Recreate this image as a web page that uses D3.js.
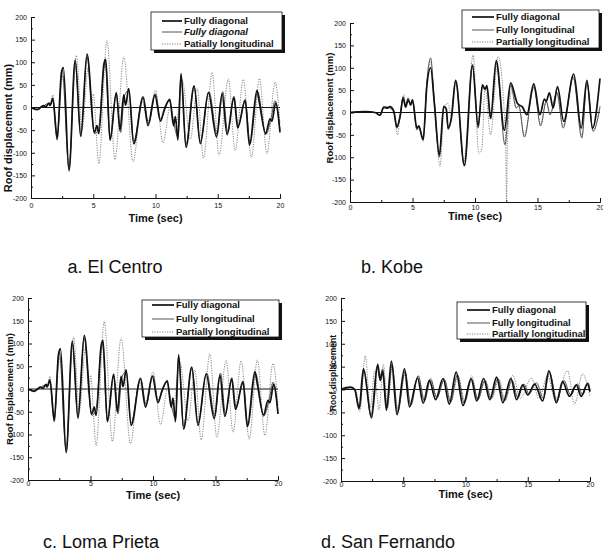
<!DOCTYPE html>
<html>
<head>
<meta charset="utf-8">
<script src="https://cdn.jsdelivr.net/npm/d3@7"></script>
<style>
    body { margin: 0; background: #fff; }
    svg { display: block; font-family: "Liberation Sans", Arial, sans-serif; }
    .tick text { font-size: 7px; fill: #111; }
    .domain, .tick line { stroke: #111; }
    .axis-title { font-weight: bold; fill: #111; }
    .legend-text { font-weight: bold; font-size: 9.5px; fill: #111; }
    .caption { font-size: 18px; fill: #111; }
</style>
</head>
<body>
<svg id="canvas" width="603" height="554"></svg>
<script>
// tick values shared by all four panels
const timeTicks = [0, 5, 10, 15, 20];
const timeMinor = [2.5, 7.5, 12.5, 17.5];
const dispTicks = [-200, -150, -100, -50, 0, 50, 100, 150, 200];
const dispMinor = [-175, -125, -75, -25, 25, 75, 125, 175];

// [time (sec), roof displacement (mm)]
const elCentroDiag = [[0,0],[0.5,-5],[1.0,4],[1.2,2],[1.45,10],[1.55,5],[1.75,20],[2.1,-68],[2.45,78],[2.6,88],
    [3.05,-140],[3.55,105],[4.0,-62],[4.5,118],[5.1,-55],[5.3,-40],[5.45,-58],[5.85,95],[6.0,107],[6.35,-72],
    [6.85,33],[7.15,-50],[7.45,28],[7.6,5],[7.85,42],[8.25,-80],[9.0,22],[9.4,-40],[9.95,28],[10.4,-30],
    [10.7,-5],[11.15,18],[11.45,-40],[11.6,-20],[11.8,-72],[12.05,75],[12.45,-88],[13.1,48],[13.6,-80],
    [14.25,33],[14.9,-65],[15.35,30],[15.75,-60],[16.3,22],[16.6,-45],[17.2,15],[17.55,-83],[18.15,38],
    [18.35,10],[18.85,-57],[19.2,-25],[19.35,-30],[19.65,10],[20,-55]];
const elCentroLong = [[0,0],[0.5,-4],[1.0,3],[1.3,8],[1.5,4],[1.75,18],[2.1,-72],[2.5,82],[3.05,-135],[3.55,100],
    [4.0,-65],[4.5,112],[5.1,-58],[5.4,-50],[5.95,100],[6.35,-70],[6.85,30],[7.2,-55],[7.5,25],[7.85,38],
    [8.25,-75],[9.0,25],[9.45,-35],[10.0,30],[10.4,-25],[11.1,15],[11.5,-40],[11.8,-65],[12.05,70],
    [12.45,-82],[13.1,45],[13.6,-75],[14.3,35],[14.95,-60],[15.4,35],[15.8,-55],[16.3,25],[16.65,-40],
    [17.2,18],[17.6,-80],[18.2,35],[18.85,-60],[19.3,-22],[19.6,15],[20,-50]];
const elCentroPartial = [[0,0],[0.5,-3],[1.0,3],[1.3,8],[1.5,4],[1.75,28],[2.1,-55],[2.55,70],[3.05,-130],
    [3.65,115],[4.1,-50],[4.6,90],[4.85,-10],[5.0,30],[5.45,-124],[6.1,148],[6.75,-115],[7.45,112],[8.2,-120],
    [8.9,15],[9.4,-30],[10.0,38],[10.6,-78],[11.2,5],[11.6,-45],[12.15,60],[12.8,-70],[13.35,42],[13.85,-112],
    [14.55,77],[15.1,-106],[15.85,63],[16.4,-95],[17.05,62],[17.7,-110],[18.35,64],[18.95,-102],[19.6,56],
    [20,-35]];

const kobeDiag = [[0,0],[1.2,2],[2.0,0],[2.4,-6],[2.7,12],[3.0,10],[3.2,13],[3.5,3],[3.75,-32],[4.0,-10],
    [4.25,32],[4.45,12],[4.65,28],[4.85,18],[5.0,28],[5.35,-35],[5.5,-30],[5.85,-60],[6.15,60],[6.45,100],
    [6.75,20],[7.15,-95],[7.5,14],[7.7,8],[7.85,-35],[8.1,-15],[8.45,72],[9.15,-118],[9.8,104],[10.25,-30],
    [10.6,62],[10.8,52],[10.95,60],[11.25,-12],[11.7,116],[12.35,-40],[12.85,66],[13.4,20],[13.8,12],
    [14.15,-5],[14.7,64],[15.2,-5],[15.55,30],[15.7,25],[15.95,44],[16.25,10],[16.6,58],[17.1,-20],
    [17.9,86],[18.5,-35],[18.95,72],[19.4,-35],[20,76]];
const kobeLong = [[0,0],[1.2,2],[2.0,0],[2.4,-6],[2.7,10],[3.0,12],[3.2,10],[3.5,2],[3.75,-35],[4.0,-8],
    [4.25,35],[4.45,15],[4.65,32],[4.85,15],[5.0,26],[5.35,-38],[5.5,-32],[5.85,-62],[6.15,70],[6.45,122],
    [6.75,25],[7.15,-100],[7.5,12],[7.7,6],[7.85,-38],[8.1,-12],[8.45,70],[9.15,-120],[9.8,108],[10.25,-35],
    [10.6,60],[10.8,50],[10.95,55],[11.25,-15],[11.7,112],[12.4,-72],[12.85,62],[13.3,10],[13.5,15],
    [13.95,-55],[14.7,58],[15.25,-30],[15.7,25],[16.0,-5],[16.55,45],[17.05,-35],[17.85,80],[18.55,-57],
    [18.95,68],[19.45,-42],[20,12]];
const kobePartial = [[0,0],[1.2,2],[2.0,0],[2.4,-4],[2.7,12],[3.0,14],[3.2,10],[3.5,0],[3.8,-50],[4.0,-10],
    [4.3,40],[4.45,18],[4.65,35],[4.85,15],[5.0,30],[5.35,-40],[5.5,-35],[5.85,-65],[6.15,65],[6.45,115],
    [6.75,15],[7.2,-120],[7.55,15],[7.85,20],[8.1,-10],[8.5,70],[9.1,-110],[9.85,128],[10.3,-92],[10.55,-80],
    [10.8,55],[11.25,-50],[11.85,125],[12.45,-60],[12.52,-200],[12.6,-60],[13.0,55],[13.3,10],[13.5,15],
    [13.95,-50],[14.7,55],[15.25,-25],[15.7,25],[16.0,-5],[16.55,42],[17.05,-30],[17.85,78],[18.55,-52],
    [18.95,65],[19.45,-40],[20,15]];

const sanFerDiag = [[0,0],[0.4,4],[0.8,5],[1.1,0],[1.45,-42],[1.8,45],[2.45,-62],[2.95,55],[3.15,20],[3.35,40],
    [3.65,-45],[4.05,62],[4.5,-55],[5.1,45],[5.5,-38],[6.15,25],[6.6,-30],[7.1,20],[7.6,-22],[8.2,24],
    [8.7,-32],[9.25,38],[9.8,-35],[10.45,24],[10.9,-25],[11.45,24],[11.95,-22],[12.5,27],[13.0,-29],
    [13.65,24],[14.1,-22],[14.6,10],[15.0,-12],[15.55,12],[16.2,-25],[16.7,41],[17.3,-29],[17.8,17],
    [18.35,-15],[18.9,10],[19.3,-15],[19.8,13],[20,-5]];
const sanFerLong = [[0,0],[0.4,3],[0.8,4],[1.1,0],[1.5,-40],[1.85,42],[2.4,-58],[2.9,50],[3.1,25],[3.35,45],
    [3.7,-40],[4.1,55],[4.55,-50],[5.15,40],[5.6,-35],[6.2,30],[6.7,-25],[7.2,22],[7.7,-18],[8.3,22],
    [8.8,-28],[9.35,32],[9.9,-30],[10.5,22],[11.0,-22],[11.55,20],[12.05,-20],[12.6,24],[13.1,-25],
    [13.75,20],[14.2,-18],[14.7,12],[15.1,-10],[15.7,15],[16.25,-20],[16.75,38],[17.35,-25],[17.9,20],
    [18.45,-12],[19.0,12],[19.4,-12],[19.85,15],[20,-2]];
const sanFerPartial = [[0,0],[0.8,3],[1.2,0],[1.5,-48],[1.95,74],[2.35,-40],[2.7,40],[3.05,-45],[3.4,55],
    [3.75,-40],[4.1,50],[4.6,-45],[5.15,35],[5.6,-30],[6.2,30],[6.7,-22],[7.2,25],[7.7,-18],[8.3,22],
    [8.85,-25],[9.4,30],[9.95,-25],[10.5,30],[11.0,-22],[11.6,20],[12.1,-20],[12.7,22],[13.2,-25],
    [13.8,31],[14.4,-20],[15.3,25],[15.9,-20],[16.6,30],[17.2,-22],[18.2,41],[18.75,-32],[19.4,34],[20,-15]];

// Loma Prieta panel repeats the El Centro traces in the source figure
const lomaDiag = elCentroDiag;
const lomaLong = elCentroLong;
const lomaPartial = elCentroPartial;

const panels = [
    {left: 31, right: 280, top: 17, bottom: 198, xTickPad: 5,
     yTitle: "Roof displacement (mm)", yTitleX: 8, yTitleY: 128, yTitleSize: 11,
     xTitleY: 222, xTitleSize: 11,
     caption: "a. El Centro", capX: 115, capY: 273,
     legend: {x: 151, y: 12, w: 131, h: 38, lineX: 162, textX: 184, rows: [21, 32, 44]},
     labels: ["Fully diagonal", "Fully diagonal", "Patially longitudinal"], italic: 1,
     series: [elCentroDiag, elCentroLong, elCentroPartial]},
    {left: 350, right: 600, top: 23, bottom: 202, xTickPad: 3,
     yTitle: "Roof displacement (mm)", yTitleX: 330, yTitleY: 108, yTitleSize: 9.5,
     xTitleY: 220, xTitleSize: 11,
     caption: "b. Kobe", capX: 392, capY: 273,
     legend: {x: 462, y: 10, w: 137, h: 38, lineX: 472, textX: 496, rows: [17, 30, 42]},
     labels: ["Fully diagonal", "Fully longitudinal", "Partially longitudinal"], italic: -1,
     series: [kobeDiag, kobeLong, kobePartial]},
    {left: 28, right: 278, top: 298, bottom: 480, xTickPad: 1.5,
     yTitle: "Roof Displacement (mm)", yTitleX: 10, yTitleY: 389, yTitleSize: 9.5,
     xTitleY: 499, xTitleSize: 11,
     caption: "c. Loma Prieta", capX: 101, capY: 548,
     legend: {x: 142, y: 300, w: 137, h: 37, lineX: 152, textX: 176, rows: [305, 319, 332]},
     labels: ["Fully diagonal", "Fully longitudinal", "Partially longitudinal"], italic: -1,
     series: [lomaDiag, lomaLong, lomaPartial]},
    {left: 341, right: 590, top: 298, bottom: 481, xTickPad: 1.5,
     yTitle: "Roof displacement", yTitleX: 333, yTitleY: 373, yTitleSize: 8.5,
     xTitleY: 498, xTitleSize: 11,
     caption: "d. San Fernando", capX: 388, capY: 548,
     legend: {x: 457, y: 302, w: 129, h: 37, lineX: 467, textX: 492, rows: [310, 323, 334]},
     labels: ["Fully diagonal", "Fully longitudinal", "Partially longitudinal"], italic: -1,
     series: [sanFerDiag, sanFerLong, sanFerPartial]}
];

// stroke styles for diagonal, longitudinal, partial
const styles = [
    {color: "#111", width: 1.7, dash: null},
    {color: "#444", width: 0.9, dash: null},
    {color: "#666", width: 0.8, dash: "1.2,1.3"}
];

/**
 * Draws one time-history panel with its axes, legend and caption.
 */
function drawPanel(p) {
    const svg = d3.select("#canvas");
    const g = svg.append("g");

    const x = d3.scaleLinear().domain([0, 20]).range([p.left, p.right]);
    const y = d3.scaleLinear().domain([-200, 200]).range([p.bottom, p.top]);

    // minor ticks first, then major ones with labels
    g.append("g")
        .attr("transform", "translate(0," + p.bottom + ")")
        .call(d3.axisBottom(x).tickValues(timeMinor).tickSize(-2).tickSizeOuter(0).tickFormat(""));
    g.append("g")
        .attr("transform", "translate(" + p.left + ",0)")
        .call(d3.axisLeft(y).tickValues(dispMinor).tickSize(-2).tickSizeOuter(0).tickFormat(""));

    g.append("g")
        .attr("transform", "translate(0," + p.bottom + ")")
        .call(d3.axisBottom(x).tickValues(timeTicks).tickSize(-4).tickSizeOuter(0).tickPadding(p.xTickPad)
            .tickFormat(d => String(d)));
    g.append("g")
        .attr("transform", "translate(" + p.left + ",0)")
        .call(d3.axisLeft(y).tickValues(dispTicks).tickSize(-4).tickSizeOuter(0).tickPadding(4)
            .tickFormat(d => String(d)));

    // zero line
    g.append("line")
        .attr("x1", x(0)).attr("x2", x(20))
        .attr("y1", y(0)).attr("y2", y(0))
        .attr("stroke", "#111").attr("stroke-width", 1);

    const line = d3.line()
        .x(d => x(d[0]))
        .y(d => y(d[1]))
        .curve(d3.curveMonotoneX);

    // partial underneath, diagonal on top
    for (let i = 2; i >= 0; i--) {
        g.append("path")
            .attr("d", line(p.series[i]))
            .attr("fill", "none")
            .attr("stroke", styles[i].color)
            .attr("stroke-width", styles[i].width)
            .attr("stroke-dasharray", styles[i].dash)
            .attr("stroke-linejoin", "round");
    }

    // legend box with drop shadow
    const L = p.legend;
    g.append("rect")
        .attr("x", L.x + 3).attr("y", L.y + 3)
        .attr("width", L.w).attr("height", L.h)
        .attr("fill", "#111");
    g.append("rect")
        .attr("x", L.x).attr("y", L.y)
        .attr("width", L.w).attr("height", L.h)
        .attr("fill", "#fff").attr("stroke", "#111").attr("stroke-width", 0.8);

    p.labels.forEach((label, i) => {
        g.append("line")
            .attr("x1", L.lineX).attr("x2", L.textX - 2)
            .attr("y1", L.rows[i]).attr("y2", L.rows[i])
            .attr("stroke", styles[i].color)
            .attr("stroke-width", styles[i].width)
            .attr("stroke-dasharray", styles[i].dash);
        g.append("text")
            .attr("class", "legend-text")
            .attr("x", L.textX)
            .attr("y", L.rows[i] + 3.3)
            .style("font-style", i === p.italic ? "italic" : "normal")
            .text(label);
    });

    // axis titles
    g.append("text")
        .attr("class", "axis-title")
        .attr("text-anchor", "middle")
        .attr("x", (p.left + p.right) / 2)
        .attr("y", p.xTitleY)
        .style("font-size", p.xTitleSize + "px")
        .text("Time (sec)");
    g.append("text")
        .attr("class", "axis-title")
        .attr("text-anchor", "middle")
        .attr("transform", "translate(" + p.yTitleX + "," + p.yTitleY + ") rotate(-90)")
        .attr("dy", "0.35em")
        .style("font-size", p.yTitleSize + "px")
        .text(p.yTitle);

    // caption below the panel
    svg.append("text")
        .attr("class", "caption")
        .attr("text-anchor", "middle")
        .attr("x", p.capX)
        .attr("y", p.capY)
        .text(p.caption);
}

panels.forEach(drawPanel);
</script>
</body>
</html>
